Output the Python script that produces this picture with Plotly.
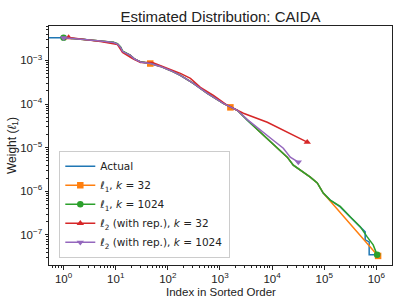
import plotly.graph_objects as go

# ---------------- data ----------------
actual_x = [0.5, 1, 2.12, 5.1, 9.1, 10.8, 12.4, 13.5, 16.1, 19.2, 22.9, 29.9, 46, 72, 112, 174, 309, 574,
            1160, 2150, 3350, 5940, 10500, 19500, 25500, 34700, 54000, 73500, 95700, 130000, 203000,
            315000, 490000, 610000, 610000, 728000, 728000, 1035000]
actual_y = [3.3e-3, 3.3e-3, 3.1e-3, 2.79e-3, 2.58e-3, 2.38e-3, 1.98e-3, 1.61e-3, 1.45e-3, 1.3e-3, 1.08e-3,
            9.2e-4, 8.5e-4, 7.3e-4, 5.9e-4, 4.54e-4, 2.98e-4, 1.76e-4, 1.04e-4, 7.2e-5, 4.25e-5, 2.26e-5,
            1.2e-5, 6.07e-6, 3.98e-6, 3.06e-6, 2.12e-6, 1.55e-6, 9.1e-7, 6.3e-7, 4.37e-7, 2.58e-7, 1.52e-7,
            1.17e-7, 7.7e-8, 6.9e-8, 3.49e-8, 3.49e-8]

l1_32_x = [1, 2.12, 5.1, 9.1, 10.8, 12.4, 13.5, 16.1, 19.2, 22.9, 29.9, 46, 72, 112, 174, 309, 574, 1160,
           1585, 2150, 3350, 5940, 10500, 19500, 25500, 34700, 54000, 73500, 95700, 130000, 1080000]
l1_32_y = [3.3e-3, 3.1e-3, 2.79e-3, 2.58e-3, 2.38e-3, 1.98e-3, 1.61e-3, 1.45e-3, 1.3e-3, 1.08e-3, 9.2e-4,
           8.5e-4, 7.3e-4, 5.9e-4, 4.54e-4, 2.98e-4, 1.76e-4, 1.04e-4, 8.4e-5, 7.2e-5, 4.25e-5, 2.26e-5,
           1.2e-5, 6.07e-6, 3.98e-6, 3.06e-6, 2.12e-6, 1.55e-6, 9.1e-7, 6.0e-7, 3.3e-8]
l1_32_mark_x = [46, 1585, 1080000]
l1_32_mark_y = [8.5e-4, 8.4e-5, 3.3e-8]

l1_1024_x = [1, 2.12, 5.1, 9.1, 10.8, 12.4, 13.5, 16.1, 19.2, 22.9, 29.9, 46, 72, 112, 174, 309, 574, 1160,
             2150, 3350, 5940, 10500, 19500, 25500, 34700, 54000, 73500, 95700, 130000, 203000, 315000,
             490000, 667000, 869000, 1035000]
l1_1024_y = [3.3e-3, 3.1e-3, 2.79e-3, 2.6e-3, 2.42e-3, 2.05e-3, 1.65e-3, 1.47e-3, 1.3e-3, 1.08e-3, 9.3e-4,
             8.6e-4, 7.4e-4, 5.9e-4, 4.54e-4, 2.98e-4, 1.76e-4, 1.04e-4, 7.2e-5, 4.25e-5, 2.26e-5, 1.2e-5,
             6.07e-6, 3.98e-6, 3.06e-6, 2.12e-6, 1.55e-6, 9.1e-7, 6.3e-7, 4.5e-7, 2.6e-7, 1.55e-7, 9.0e-8,
             5.9e-8, 3.49e-8]
l1_1024_mark_x = [1, 1035000]
l1_1024_mark_y = [3.3e-3, 3.49e-8]

l2_32_x = [1.25, 5.1, 10.8, 13.5, 21, 29.9, 50.7, 72, 174, 271, 421, 748, 1385, 2810, 8090, 47200]
l2_32_y = [3.35e-3, 2.72e-3, 2.32e-3, 1.52e-3, 1.11e-3, 9.0e-4, 9.0e-4, 7.7e-4, 5.05e-4, 3.88e-4, 2.42e-4,
           1.58e-4, 9.4e-5, 6.15e-5, 3.83e-5, 1.34e-5]
l2_32_mark_x = [1.25, 47200]
l2_32_mark_y = [3.35e-3, 1.34e-5]

l2_1024_x = [1, 2.12, 5.1, 9.1, 10.8, 12.4, 13.5, 16.1, 19.2, 22.9, 29.9, 46, 72, 112, 174, 309, 574, 1160,
             2150, 3350, 5940, 10500, 16400, 22300, 31800]
l2_1024_y = [3.3e-3, 3.1e-3, 2.79e-3, 2.58e-3, 2.38e-3, 1.98e-3, 1.61e-3, 1.45e-3, 1.3e-3, 1.08e-3, 9.2e-4,
             8.5e-4, 7.3e-4, 5.9e-4, 4.54e-4, 2.98e-4, 1.76e-4, 1.04e-4, 7.2e-5, 4.4e-5, 2.5e-5, 1.48e-5,
             9.7e-6, 6.07e-6, 4.67e-6]
l2_1024_mark_x = [1, 31800]
l2_1024_mark_y = [3.3e-3, 4.67e-6]

x_tick_vals = [1, 10, 100, 1000, 10000, 100000, 1000000]
x_tick_text = ["10<sup>0</sup>", "10<sup>1</sup>", "10<sup>2</sup>", "10<sup>3</sup>", "10<sup>4</sup>",
               "10<sup>5</sup>", "10<sup>6</sup>"]
y_tick_vals = [1e-7, 1e-6, 1e-5, 1e-4, 1e-3]
y_tick_text = ["10<sup>−7</sup>", "10<sup>−6</sup>", "10<sup>−5</sup>", "10<sup>−4</sup>", "10<sup>−3</sup>"]

names = ["Actual",
         "<i>ℓ</i><sub>1</sub>, <i>k</i> = 32",
         "<i>ℓ</i><sub>1</sub>, <i>k</i> = 1024",
         "<i>ℓ</i><sub>2</sub> (with rep.), <i>k</i> = 32",
         "<i>ℓ</i><sub>2</sub> (with rep.), <i>k</i> = 1024"]
colors = ["#1f77b4", "#ff7f0e", "#2ca02c", "#d62728", "#9467bd"]
symbols = [None, "square", "circle", "triangle-up", "triangle-down"]

# ---------------- figure ----------------
FONT = "Liberation Sans"
LFONT = "DejaVu Sans"
LW = 1.5
MS = 6.5

fig = go.Figure()
series = [
    (actual_x, actual_y, None, None),
    (l1_32_x, l1_32_y, l1_32_mark_x, l1_32_mark_y),
    (l1_1024_x, l1_1024_y, l1_1024_mark_x, l1_1024_mark_y),
    (l2_32_x, l2_32_y, l2_32_mark_x, l2_32_mark_y),
    (l2_1024_x, l2_1024_y, l2_1024_mark_x, l2_1024_mark_y),
]
for i, (sx, sy, mx, my) in enumerate(series):
    fig.add_trace(go.Scatter(x=sx, y=sy, mode="lines", line=dict(color=colors[i], width=LW),
                             showlegend=False, hoverinfo="skip"))
    if mx is not None:
        fig.add_trace(go.Scatter(x=mx, y=my, mode="markers",
                                 marker=dict(color=colors[i], size=MS, symbol=symbols[i]),
                                 showlegend=False, hoverinfo="skip"))

# legend-only entries
for i in range(5):
    if symbols[i] is None:
        fig.add_trace(go.Scatter(x=[None], y=[None], mode="lines", name=names[i],
                                 line=dict(color=colors[i], width=LW)))
    else:
        fig.add_trace(go.Scatter(x=[None], y=[None], mode="lines+markers", name=names[i],
                                 line=dict(color=colors[i], width=LW),
                                 marker=dict(color=colors[i], size=MS, symbol=symbols[i])))

minor_x = [m * 10 ** e for e in range(-1, 7) for m in range(2, 10)]
minor_y = [m * 10 ** e for e in range(-8, -2) for m in range(2, 10)]

axis_common = dict(showline=True, linecolor="#222", linewidth=1, mirror=True, showgrid=False,
                   zeroline=False, ticks="outside", ticklen=3.5, tickwidth=1, tickcolor="#222",
                   automargin=False,
                   tickfont=dict(family=FONT, size=11.5, color="#222"))

fig.update_xaxes(type="log", range=[-0.28, 6.30], tickmode="array", tickvals=x_tick_vals,
                 ticktext=x_tick_text,
                 minor=dict(ticks="outside", ticklen=2, tickwidth=0.8, tickcolor="#222",
                            tickmode="array", tickvals=minor_x, showgrid=False),
                 **axis_common)
fig.update_yaxes(type="log", range=[-7.69, -2.21], tickmode="array", tickvals=y_tick_vals,
                 ticktext=y_tick_text,
                 minor=dict(ticks="outside", ticklen=2, tickwidth=0.8, tickcolor="#222",
                            tickmode="array", tickvals=minor_y, showgrid=False),
                 title=dict(text="Weight (<i>ℓ</i><sub>1</sub>)", font=dict(family=FONT, size=12, color="#222"),
                            standoff=1),
                 **axis_common)

fig.add_annotation(text="Index in Sorted Order", xref="paper", yref="paper", x=0.5, y=-0.113,
                   xanchor="center", yanchor="middle", showarrow=False,
                   font=dict(family=FONT, size=11.5, color="#222"))

fig.update_layout(
    width=407, height=305,
    margin=dict(l=49, r=15, t=26, b=40),
    paper_bgcolor="white", plot_bgcolor="white",
    title=dict(text="Estimated Distribution: CAIDA", x=0.5, xanchor="center", xref="paper",
               yref="container", y=0.944, yanchor="middle",
               font=dict(family=FONT, size=15, color="#222")),
    legend=dict(x=0.03, y=0.03, xanchor="left", yanchor="bottom",
                bgcolor="rgba(255,255,255,0.8)", bordercolor="#cccccc", borderwidth=1,
                font=dict(family=LFONT, size=10.5, color="#222"), tracegroupgap=0,
                itemwidth=30),
    showlegend=True,
)

fig.write_html("out.html", config={"displayModeBar": False},
               post_script="document.body.style.margin='0px';")
